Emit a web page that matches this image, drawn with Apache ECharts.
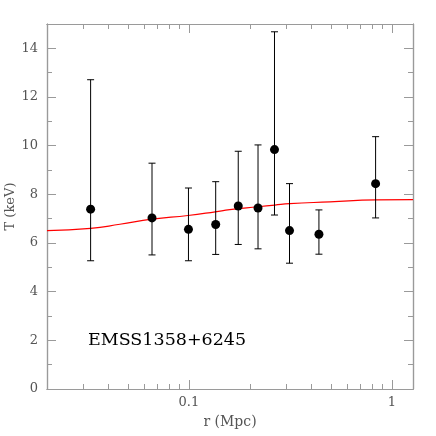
<!DOCTYPE html>
<html>
<head>
<meta charset="utf-8">
<script src="https://cdn.jsdelivr.net/npm/echarts@6/dist/echarts.min.js"></script>
<style>
  html, body { margin: 0; padding: 0; background: #fff; }
  #chart { width: 436px; height: 436px; }
</style>
</head>
<body>
<div id="chart"></div>
<script>
// radius (Mpc), temperature (keV) with lower / upper error
var radius = [0.0328, 0.0658, 0.0995, 0.1355, 0.175, 0.219, 0.264, 0.313, 0.437, 0.831];
var temp   = [7.39, 7.03, 6.56, 6.76, 7.52, 7.44, 9.84, 6.51, 6.36, 8.44];
var tLow   = [5.27, 5.51, 5.27, 5.53, 5.94, 5.76, 7.15, 5.17, 5.54, 7.03];
var tHigh  = [12.71, 9.28, 8.26, 8.52, 9.77, 10.03, 14.68, 8.44, 7.36, 10.37];

// model profile (red)
var modelR = [0.0200, 0.0328, 0.0457, 0.0658, 0.0989, 0.1347, 0.159, 0.219, 0.265, 0.314, 0.495, 0.834, 1.27];
var modelT = [6.51, 6.60, 6.77, 6.98, 7.13, 7.28, 7.37, 7.49, 7.56, 7.62, 7.69, 7.77, 7.78];

var xMajor = [0.1, 1];
var xMinor = [0.02, 0.03, 0.04, 0.05, 0.06, 0.07, 0.08, 0.09, 0.2, 0.3, 0.4, 0.5, 0.6, 0.7, 0.8, 0.9];
var xTickLabels = ['0.1', '1'];
var yMajor = [0, 2, 4, 6, 8, 10, 12, 14];
var yMinor = [1, 3, 5, 7, 9, 11, 13];
var yTickLabels = ['0', '2', '4', '6', '8', '10', '12', '14'];

var clusterName = 'EMSS1358+6245';

var chart = echarts.init(document.getElementById('chart'));

var axisColor = '#9a9a9a';
var labelFont = 'DejaVu Serif';

function xAxisDef(pos, ticks, len, labels, name) {
  return {
    type: 'log',
    min: 0.02,
    max: 1.27,
    position: pos,
    name: name || '',
    nameLocation: 'middle',
    nameGap: 26,
    nameMoveOverlap: false,
    nameTextStyle: { color: '#555', fontFamily: labelFont, fontSize: 14 },
    axisLine: { show: true, onZero: false, lineStyle: { color: axisColor, width: 1.2 } },
    axisTick: { show: true, inside: true, length: len, customValues: ticks, lineStyle: { color: axisColor } },
    axisLabel: {
      show: labels,
      customValues: xMajor,
      formatter: function (v) {
        var k = xMajor.indexOf(v);
        return k >= 0 ? xTickLabels[k] : '';
      },
      color: '#555', fontFamily: labelFont, fontSize: 13, margin: 7
    },
    splitLine: { show: false }
  };
}

function yAxisDef(pos, ticks, len, labels, name) {
  return {
    type: 'value',
    min: 0,
    max: 15,
    position: pos,
    name: name || '',
    nameLocation: 'middle',
    nameGap: 30,
    nameMoveOverlap: false,
    nameTextStyle: { color: '#555', fontFamily: labelFont, fontSize: 13 },
    axisLine: { show: true, onZero: false, lineStyle: { color: axisColor, width: 1.2 } },
    axisTick: { show: true, inside: true, length: len, customValues: ticks, lineStyle: { color: axisColor } },
    axisLabel: {
      show: labels,
      customValues: yMajor,
      formatter: function (v) {
        var k = yMajor.indexOf(v);
        return k >= 0 ? yTickLabels[k] : '';
      },
      color: '#555', fontFamily: labelFont, fontSize: 13, margin: 9
    },
    splitLine: { show: false }
  };
}

var errData = radius.map(function (r, i) { return [r, tLow[i], tHigh[i]]; });

var option = {
  animation: false,
  backgroundColor: '#fff',
  graphic: [{
    type: 'text',
    left: 88,
    top: 331,
    style: { text: clusterName, font: '17.5px "DejaVu Serif"', fill: '#000' }
  }],
  grid: { left: 47, right: 23, top: 24, bottom: 47, containLabel: false, outerBoundsMode: 'none' },
  xAxis: [
    xAxisDef('bottom', xMajor, 9, true, 'r (Mpc)'),
    xAxisDef('bottom', xMinor, 5, false),
    xAxisDef('top', xMajor, 9, false),
    xAxisDef('top', xMinor, 5, false)
  ],
  yAxis: [
    yAxisDef('left', yMajor, 9, true, 'T (keV)'),
    yAxisDef('left', yMinor, 5, false),
    yAxisDef('right', yMajor, 9, false),
    yAxisDef('right', yMinor, 5, false)
  ],
  series: [
    {
      type: 'line',
      data: modelR.map(function (r, i) { return [r, modelT[i]]; }),
      smooth: true,
      showSymbol: false,
      lineStyle: { color: '#ff0000', width: 1.2 },
      z: 2
    },
    {
      type: 'custom',
      data: errData,
      renderItem: function (params, api) {
        var x = api.value(0);
        var lo = api.coord([x, api.value(1)]);
        var hi = api.coord([x, api.value(2)]);
        var w = 3.5;
        var st = { stroke: '#000', lineWidth: 1 };
        return {
          type: 'group',
          children: [
            { type: 'line', shape: { x1: lo[0], y1: lo[1], x2: hi[0], y2: hi[1] }, style: st },
            { type: 'line', shape: { x1: lo[0] - w, y1: lo[1], x2: lo[0] + w, y2: lo[1] }, style: st },
            { type: 'line', shape: { x1: hi[0] - w, y1: hi[1], x2: hi[0] + w, y2: hi[1] }, style: st }
          ]
        };
      },
      z: 3
    },
    {
      type: 'scatter',
      data: radius.map(function (r, i) { return [r, temp[i]]; }),
      symbol: 'circle',
      symbolSize: 9,
      itemStyle: { color: '#000', opacity: 1 },
      z: 4
    }
  ]
};

chart.setOption(option);
</script>
</body>
</html>
